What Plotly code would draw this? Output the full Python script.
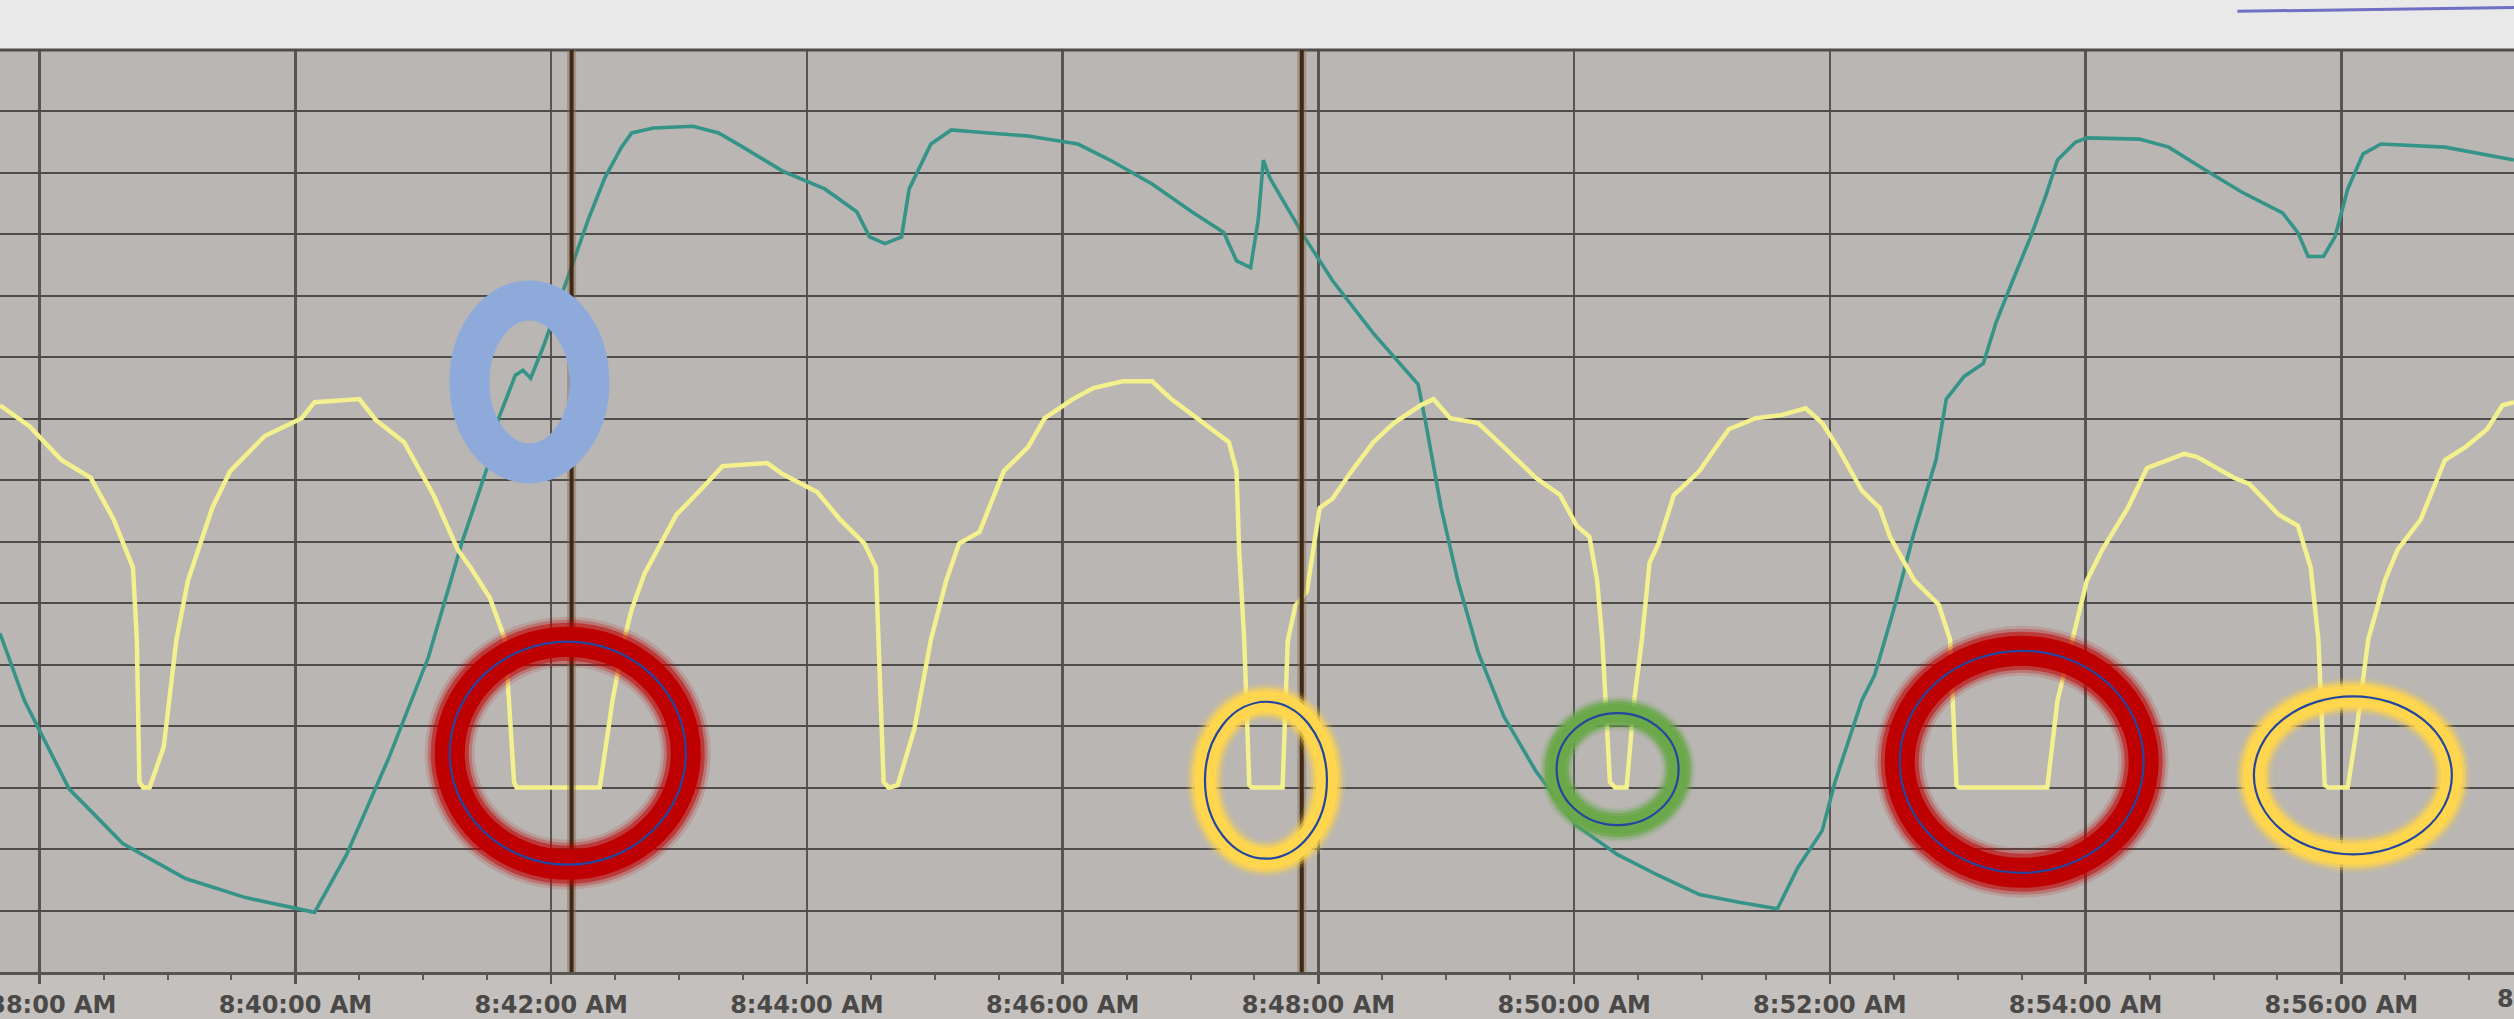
import plotly.graph_objects as go
from datetime import datetime, timedelta

BASE = datetime(2024, 1, 1, 8, 0, 0)

# ---- data (minute of the 8 o'clock hour, value in grid units) ----
teal_minute = [37.69, 37.88, 38.23, 38.65, 39.14, 39.61, 40.15, 40.40, 40.73, 41.04,
               41.30, 41.52, 41.59, 41.72, 41.78, 41.84, 41.94, 42.09, 42.21, 42.29,
               42.42, 42.55, 42.63, 42.80, 43.11, 43.31, 43.50, 43.81, 44.14, 44.39,
               44.49, 44.61, 44.74, 44.80, 44.97, 45.13, 45.42, 45.73, 46.12, 46.37,
               46.70, 47.01, 47.26, 47.36, 47.47, 47.53, 47.57, 47.62, 47.89, 48.11,
               48.43, 48.78, 48.84, 48.96, 49.09, 49.25, 49.45, 49.70, 50.02, 50.34,
               50.66, 50.98, 51.30, 51.59, 51.75, 51.94, 52.04, 52.25, 52.35, 52.50,
               52.66, 52.83, 52.91, 53.05, 53.20, 53.30, 53.43, 53.57, 53.69, 53.78,
               53.92, 54.01, 54.42, 54.65, 54.91, 55.22, 55.54, 55.66, 55.74, 55.86,
               55.95, 56.05, 56.17, 56.31, 56.81, 57.35]
teal_value = [5.51, 4.42, 2.98, 2.09, 1.52, 1.21, 0.97, 1.91, 3.48, 5.12,
              6.97, 8.33, 9.01, 9.71, 9.79, 9.66, 10.18, 11.07, 11.75, 12.24,
              12.92, 13.42, 13.65, 13.73, 13.76, 13.65, 13.42, 13.03, 12.74, 12.37,
              11.96, 11.85, 11.96, 12.74, 13.47, 13.70, 13.65, 13.60, 13.47, 13.21,
              12.82, 12.37, 12.03, 11.57, 11.46, 12.24, 13.21, 12.92, 11.96, 11.25,
              10.39, 9.56, 8.93, 7.55, 6.37, 5.20, 4.16, 3.27, 2.38, 1.91,
              1.57, 1.26, 1.13, 1.03, 1.70, 2.30, 3.09, 4.42, 4.83, 5.90,
              7.16, 8.33, 9.32, 9.69, 9.90, 10.57, 11.25, 11.96, 12.64, 13.21,
              13.50, 13.57, 13.55, 13.42, 13.08, 12.69, 12.35, 12.03, 11.64, 11.64,
              11.96, 12.74, 13.31, 13.47, 13.42, 13.21]

yellow_minute = [37.69, 37.92, 38.17, 38.40, 38.58, 38.73, 38.76, 38.78, 38.81, 38.86,
                 38.97, 39.07, 39.16, 39.35, 39.49, 39.76, 40.05, 40.15, 40.50, 40.63,
                 40.85, 41.08, 41.27, 41.37, 41.52, 41.64, 41.71, 41.73, 42.38, 42.48,
                 42.57, 42.63, 42.73, 42.86, 42.98, 43.19, 43.34, 43.69, 43.81, 44.08,
                 44.26, 44.45, 44.54, 44.56, 44.60, 44.64, 44.71, 44.84, 44.97, 45.09,
                 45.19, 45.35, 45.54, 45.73, 45.86, 46.08, 46.24, 46.47, 46.70, 46.85,
                 47.13, 47.30, 47.36, 47.38, 47.42, 47.46, 47.48, 47.72, 47.76, 47.82,
                 47.91, 48.01, 48.11, 48.26, 48.43, 48.59, 48.80, 48.90, 49.03, 49.25,
                 49.45, 49.70, 49.89, 50.02, 50.12, 50.18, 50.22, 50.28, 50.32, 50.41,
                 50.47, 50.53, 50.59, 50.66, 50.78, 50.98, 51.11, 51.21, 51.42, 51.62,
                 51.81, 51.94, 52.06, 52.25, 52.39, 52.47, 52.66, 52.85, 52.94, 52.99,
                 53.01, 53.70, 53.78, 53.92, 54.01, 54.13, 54.33, 54.48, 54.77, 54.87,
                 55.16, 55.28, 55.51, 55.66, 55.76, 55.82, 55.87, 55.90, 56.05, 56.12,
                 56.21, 56.34, 56.44, 56.62, 56.81, 56.97, 57.14, 57.26, 57.35]
yellow_value = [9.22, 8.88, 8.33, 8.04, 7.36, 6.58, 5.41, 3.09, 3.00, 3.00,
                3.66, 5.41, 6.37, 7.55, 8.15, 8.72, 9.01, 9.27, 9.32, 8.98,
                8.62, 7.76, 6.87, 6.58, 6.09, 5.41, 3.09, 3.00, 3.00, 4.42,
                5.41, 5.90, 6.48, 6.97, 7.44, 7.89, 8.23, 8.28, 8.10, 7.81,
                7.36, 6.97, 6.58, 5.41, 3.09, 3.00, 3.04, 3.95, 5.41, 6.37,
                6.97, 7.16, 8.15, 8.54, 9.01, 9.32, 9.50, 9.61, 9.61, 9.32,
                8.88, 8.62, 8.15, 6.87, 5.41, 3.04, 3.00, 3.00, 5.38, 5.96,
                6.19, 7.55, 7.70, 8.15, 8.62, 8.93, 9.22, 9.32, 9.01, 8.93,
                8.54, 8.04, 7.76, 7.26, 7.08, 6.37, 5.41, 3.09, 3.00, 3.00,
                4.42, 5.41, 6.66, 6.97, 7.76, 8.15, 8.54, 8.83, 9.01, 9.06,
                9.17, 8.93, 8.54, 7.83, 7.55, 7.08, 6.37, 5.98, 5.41, 3.04,
                3.00, 3.00, 4.42, 5.59, 6.37, 6.87, 7.55, 8.20, 8.43, 8.38,
                8.04, 7.94, 7.44, 7.26, 6.58, 5.41, 3.04, 3.00, 3.00, 3.95,
                5.41, 6.37, 6.87, 7.36, 8.33, 8.54, 8.83, 9.22, 9.27]

tick_minutes = [38, 40, 42, 44, 46, 48, 50, 52, 54, 56]
edge_label = "8:58:00 AM"   # next tick label, only its first digit shows at the right edge
cursor_minutes = [42.16, 47.87]
view_minutes = [37.69, 57.35]

# ---- annotation rings (centre minute, centre value, half-width in minutes, half-height in units) ----
ring_kind = ["blue", "red", "yellow", "green", "red", "yellow"]
ring_cx = [41.83, 42.13, 47.59, 50.34, 53.50, 56.09]
ring_cy = [9.60, 3.56, 3.12, 3.30, 3.42, 3.20]
ring_rx = [0.469, 0.923, 0.477, 0.477, 0.954, 0.774]
ring_ry = [1.326, 1.814, 1.277, 0.911, 1.806, 1.285]


def at(m):
    return BASE + timedelta(minutes=m)


fig = go.Figure()
fig.add_trace(go.Scatter(x=[at(m) for m in teal_minute], y=teal_value, mode="lines",
                         line=dict(color="#359487", width=3.6), hoverinfo="skip"))
fig.add_trace(go.Scatter(x=[at(m) for m in yellow_minute], y=yellow_value, mode="lines",
                         line=dict(color="#f4f08e", width=4.5), hoverinfo="skip"))

shapes = []
# light top band of the photographed screen
shapes.append(dict(type="rect", xref="paper", yref="paper", x0=0, x1=1, y0=1, y1=1.07,
                   fillcolor="#e9e9e9", line=dict(width=0), layer="below"))
shapes.append(dict(type="line", xref="paper", yref="paper", x0=0.89, x1=1, y0=1.042, y1=1.046,
                   line=dict(color="#6f6fc4", width=3)))
# top border of the grid
shapes.append(dict(type="line", xref="paper", yref="paper", x0=0, x1=1, y0=1, y1=1,
                   line=dict(color="#4f4d4b", width=3)))

# cursor lines
for m in cursor_minutes:
    shapes.append(dict(type="line", xref="x", yref="paper", x0=at(m), x1=at(m), y0=0, y1=1,
                       line=dict(color="#8a6a4c", width=9), opacity=0.45))
    shapes.append(dict(type="line", xref="x", yref="paper", x0=at(m), x1=at(m), y0=0, y1=1,
                       line=dict(color="#3e2914", width=4)))

glow = {
    "red": ("#bf0000", [(50, 0.12), (44, 0.25), (38, 0.5), (30, 1.0)]),
    "yellow": ("#ffd64d", [(38, 0.15), (32, 0.3), (27, 0.6), (21, 1.0)]),
    "green": ("#6aa84a", [(34, 0.15), (29, 0.35), (24, 0.7), (18, 1.0)]),
}

for kind, cx, cy, rx, ry in zip(ring_kind, ring_cx, ring_cy, ring_rx, ring_ry):
    box = dict(type="circle", xref="x", yref="y", x0=at(cx - rx), x1=at(cx + rx),
               y0=cy - ry, y1=cy + ry, fillcolor="rgba(0,0,0,0)")
    if kind == "blue":
        shapes.append(dict(box, line=dict(color="#8eaadb", width=40)))
        continue
    colour, layers = glow[kind]
    for w, op in layers:
        shapes.append(dict(box, line=dict(color=colour, width=w), opacity=op))
    shapes.append(dict(box, line=dict(color="#2346a0", width=2.2)))

label_font = dict(family="DejaVu Sans", size=24, color="#4a4948", weight="bold")

fig.update_layout(
    template="none",
    width=2514, height=1019,
    margin=dict(l=0, r=0, t=50, b=47, autoexpand=False),
    paper_bgcolor="#c3c0bd",
    plot_bgcolor="#b9b6b3",
    showlegend=False,
    shapes=shapes,
    xaxis=dict(
        type="date", range=[at(view_minutes[0]), at(view_minutes[1])],
        automargin=False,
        tickvals=[at(m) for m in tick_minutes],
        tickformat="%-I:%M:%S %p",
        ticks="outside", ticklen=9, tickwidth=2.5, tickcolor="#555350",
        ticklabelstandoff=0,
        minor=dict(dtick=30000, ticks="outside", ticklen=5, tickwidth=2, tickcolor="#5f5d5a", showgrid=False),
        showgrid=True, gridcolor="#575552", gridwidth=2.5,
        showline=True, linecolor="#575552", linewidth=3,
        zeroline=False,
        tickfont=label_font,
        ticklabeloverflow="allow",
        fixedrange=True,
    ),
    yaxis=dict(
        range=[0, 15], dtick=1, tick0=0, automargin=False,
        showticklabels=False, ticks="",
        showgrid=True, gridcolor="#4f4d4b", gridwidth=2,
        zeroline=False, showline=False, fixedrange=True,
    ),
    annotations=[dict(x=0.9925, y=0, xref="paper", yref="paper", yshift=-11, xanchor="left",
                      yanchor="top", text=edge_label, showarrow=False, font=label_font)],
)

fig.write_html("out.html", config={"displayModeBar": False, "staticPlot": True},
               post_script="document.body.style.margin='0';document.body.style.overflow='hidden';")
